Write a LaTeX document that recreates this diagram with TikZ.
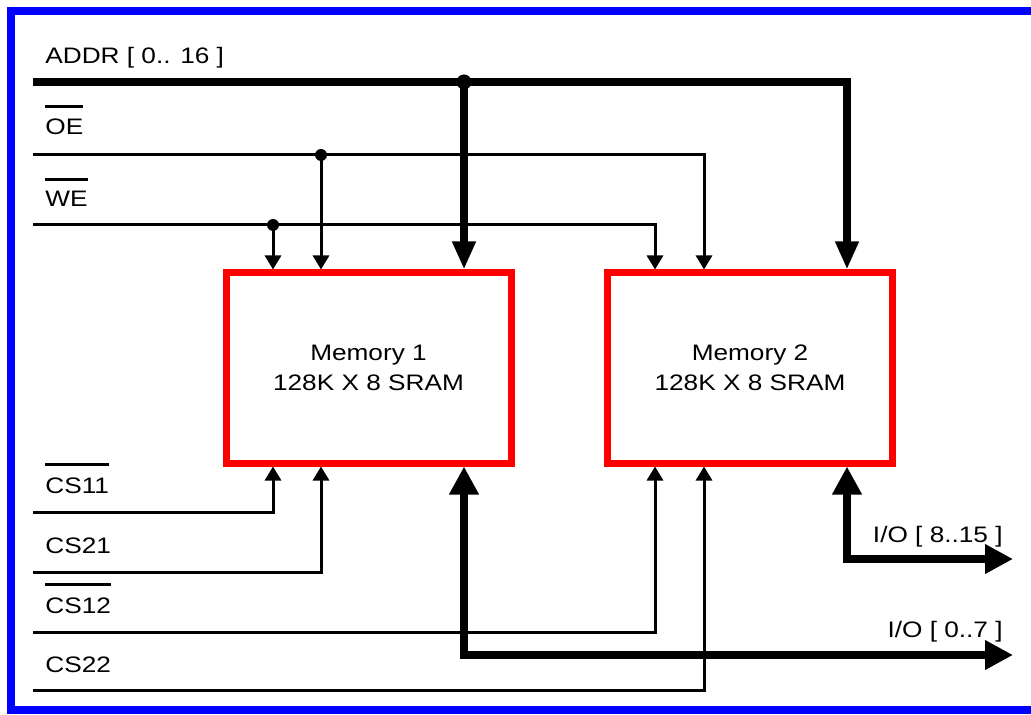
\documentclass[tikz,border=0pt]{standalone}
\usepackage{fontspec}
\setmainfont{Liberation Sans}[FakeStretch=1.17]
\usetikzlibrary{arrows.meta,positioning}
\newsavebox{\sigbox}
\newcommand{\barsig}[1]{\sbox{\sigbox}{#1}\rlap{\rule[\dimexpr\ht\sigbox+5.5pt\relax]{\wd\sigbox}{1.5pt}}#1}

\begin{document}
\begin{tikzpicture}[
  x=0.5pt, y=-0.5pt,
  every node/.style={font=\fontsize{11.2}{15}\selectfont, inner sep=0pt},
  signame/.style={anchor=base west},
  ioname/.style={anchor=base east},
  mem/.style={draw=red, line width=3.5pt, minimum width=142.5pt, minimum height=95pt, align=center},
  frame/.style={draw=blue, line width=4pt},
  wire/.style={line width=1.5pt, -{Triangle[width=8pt,length=7pt]}},
  bus/.style={line width=4pt, -{Triangle[width=11pt,length=14pt]}},
  iobus/.style={line width=4pt, {Triangle[width=14pt,length=14pt]}-{Triangle[width=14pt,length=14pt]}}
]
\useasboundingbox (0,0) rectangle (1031,715);
\draw[frame] (1031,11) -- (11,11) -- (11,710) -- (1031,710);

\node[mem] (mem1) at (368.5,368) {Memory 1\\128K X 8 SRAM};
\node[mem] (mem2) at (750,368) {Memory 2\\128K X 8 SRAM};

\node[signame] (addr) at (45,64) {ADDR [ 0.. 16 ]};
\node[signame] (oe) at (45,135) {\barsig{OE}};
\node[signame] (we) at (45,207) {\barsig{WE}};
\node[signame] (cs11) at (45,493) {\barsig{CS11}};
\node[signame] (cs21) at (45,553) {CS21};
\node[signame] (cs12) at (45,613) {\barsig{CS12}};
\node[signame] (cs22) at (45,672) {CS22};
\node[ioname] (iohi) at (1003,542) {I/O [ 8..15 ]};
\node[ioname] (iolo) at (1003,637) {I/O [ 0..7 ]};

\coordinate (addr-in) at (33,82);
\coordinate (oe-in) at (33,155);
\coordinate (we-in) at (33,225);
\coordinate (cs11-in) at (33,512);
\coordinate (cs21-in) at (33,572);
\coordinate (cs12-in) at (33,632);
\coordinate (cs22-in) at (33,690);
\coordinate (addr-tap) at (464,82);
\coordinate (oe-tap) at (321,155);
\coordinate (we-tap) at (273,225);
\coordinate (iohi-out) at (1013,559);
\coordinate (iolo-out) at (1013,655);

\draw[wire] (oe-in) -| (704,0 |- mem2.north);
\draw[wire] (oe-tap) -- (oe-tap |- mem1.north);
\draw[wire] (we-in) -| (655,0 |- mem2.north);
\draw[wire] (we-tap) -- (we-tap |- mem1.north);
\fill (oe-tap) circle (3pt);
\fill (we-tap) circle (3pt);
\draw[wire] (cs11-in) -| (we-tap |- mem1.south);
\draw[wire] (cs21-in) -| (oe-tap |- mem1.south);
\draw[wire] (cs12-in) -| (655,0 |- mem2.south);
\draw[wire] (cs22-in) -| (704,0 |- mem2.south);

\draw[bus] (addr-in) -| (847,0 |- mem2.north);
\draw[bus] (addr-tap) -- (addr-tap |- mem1.north);
\fill (addr-tap) circle (3.75pt);
\draw[iobus] (addr-tap |- mem1.south) |- (iolo-out);
\draw[iobus] (847,0 |- mem2.south) |- (iohi-out);
\end{tikzpicture}
\end{document}
